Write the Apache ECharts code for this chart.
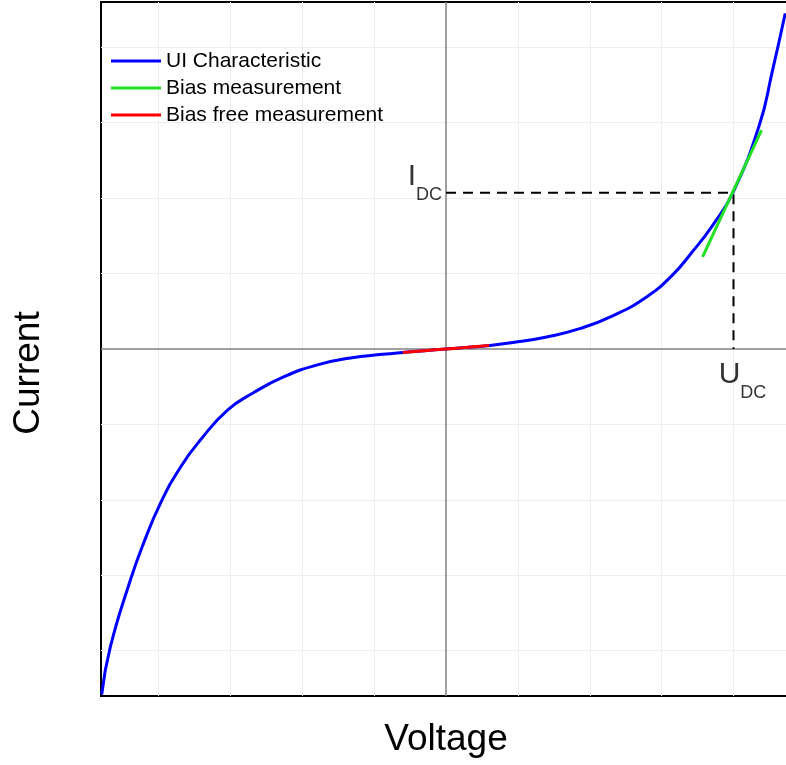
<!DOCTYPE html>
<html>
<head>
<meta charset="utf-8">
<script src="https://cdn.jsdelivr.net/npm/echarts@6/dist/echarts.min.js"></script>
<style>
  html, body { margin: 0; padding: 0; background: #fff; }
  #chart { width: 786px; height: 765px; }
</style>
</head>
<body>
<div id="chart"></div>
<script>
// UI characteristic (voltage, current in grid units)
var uiVoltage = [-4.79, -4.67, -4.39, -4.21, -3.97, -3.69, -3.42, -3.04, -2.68, -2.26, -1.79, -1.33, -0.88, -0.6, -0.3, 0, 0.3, 0.6, 0.93, 1.40, 1.86, 2.32, 2.79, 3.15, 3.42, 3.71, 3.99, 4.36, 4.54, 4.72];
var uiCurrent = [-4.58, -3.95, -3.06, -2.58, -2.04, -1.56, -1.21, -0.81, -0.58, -0.37, -0.21, -0.12, -0.07, -0.045, -0.022, 0, 0.022, 0.045, 0.085, 0.16, 0.27, 0.44, 0.69, 0.98, 1.28, 1.64, 2.07, 2.97, 3.68, 4.45];

// bias free measurement (small signal around zero)
var freeVoltage = [-0.6, -0.3, 0, 0.3, 0.6];
var freeCurrent = [-0.045, -0.022, 0, 0.022, 0.045];

// bias measurement (tangent at the DC operating point)
var biasVoltage = [3.57, 4.39];
var biasCurrent = [1.22, 2.90];

// operating point
var uDC = 4;
var iDC = 2.07;

var gridTicksX = [-4, -3, -2, -1, 1, 2, 3, 4];
var gridTicksY = [-4, -3, -2, -1, 1, 2, 3, 4];

function pairs(xs, ys) {
  return xs.map(function (x, i) { return [x, ys[i]]; });
}

var chart = echarts.init(document.getElementById('chart'), null, { renderer: 'canvas' });
var font = 'Liberation Sans, Arial, sans-serif';

var gridLines = [];
gridTicksX.forEach(function (v) { gridLines.push({ xAxis: v }); });
gridTicksY.forEach(function (v) { gridLines.push({ yAxis: v }); });

var subLabel = {
  a: { fontSize: 30, lineHeight: 30, color: '#000', fontFamily: font, verticalAlign: 'bottom', padding: [0, 0, 12, 0] },
  b: { fontSize: 18, lineHeight: 18, color: '#000', fontFamily: font, verticalAlign: 'bottom' }
};

var option = {
  animation: false,
  backgroundColor: '#fff',
  textStyle: { fontFamily: font },
  grid: {
    left: 101, top: 2, width: 690, height: 694,
    outerBoundsMode: 'none',
    show: true, borderColor: '#000', borderWidth: 2, backgroundColor: 'transparent'
  },
  legend: {
    orient: 'vertical',
    left: 111, top: 50, padding: 0,
    itemWidth: 50, itemHeight: 3, itemGap: 5,
    icon: 'rect',
    textStyle: { fontSize: 21, color: '#000', lineHeight: 22, fontFamily: font },
    data: ['UI Characteristic', 'Bias measurement', 'Bias free measurement']
  },
  xAxis: {
    type: 'value', min: -4.8, max: 4.8,
    name: 'Voltage', nameLocation: 'middle', nameGap: 25,
    nameTextStyle: { fontSize: 37, color: '#000', fontFamily: font },
    axisLine: { show: false, onZero: false },
    axisTick: { show: false }, axisLabel: { show: false }, splitLine: { show: false }
  },
  yAxis: {
    type: 'value', min: -4.6, max: 4.6,
    name: 'Current', nameLocation: 'middle', nameGap: 54,
    nameTextStyle: { fontSize: 37, color: '#000', fontFamily: font, padding: [0, 48, 0, 0] },
    axisLine: { show: false, onZero: false },
    axisTick: { show: false }, axisLabel: { show: false }, splitLine: { show: false }
  },
  series: [
    {
      name: 'grid', type: 'line', data: [], z: 1, silent: true,
      markLine: {
        z: 0, silent: true, symbol: 'none', label: { show: false },
        lineStyle: { color: '#eeeeee', width: 1, type: 'solid' },
        data: gridLines
      }
    },
    {
      name: 'axes', type: 'line', data: [], z: 2, silent: true,
      markLine: {
        z: 1, silent: true, symbol: 'none', label: { show: false },
        lineStyle: { color: '#808080', width: 1.5, type: 'solid' },
        data: [{ xAxis: 0 }, { yAxis: 0 }]
      }
    },
    {
      name: 'dc', type: 'line', z: 3, silent: true,
      data: [[0, iDC], [uDC, iDC], [uDC, 0]],
      symbol: 'none',
      lineStyle: { color: '#000', width: 2, type: [10, 7] }
    },
    {
      name: 'UI Characteristic', type: 'line', z: 4,
      data: pairs(uiVoltage, uiCurrent),
      smooth: 0.5, symbol: 'none',
      itemStyle: { color: '#0000ff' },
      lineStyle: { color: '#0000ff', width: 3 }
    },
    {
      name: 'Bias measurement', type: 'line', z: 5,
      data: pairs(biasVoltage, biasCurrent),
      symbol: 'none',
      itemStyle: { color: '#22e022' },
      lineStyle: { color: '#22e022', width: 3 }
    },
    {
      name: 'Bias free measurement', type: 'line', z: 5,
      data: pairs(freeVoltage, freeCurrent),
      smooth: 0.3, symbol: 'none',
      itemStyle: { color: '#ff0000' },
      lineStyle: { color: '#ff0000', width: 3 }
    },
    {
      name: 'labels', type: 'scatter', z: 6, silent: true,
      symbolSize: 0,
      data: [
        {
          value: [0, iDC],
          label: {
            show: true, position: 'left', distance: 4, offset: [0, -4],
            formatter: '{a|I}{b|DC}', rich: subLabel
          }
        },
        {
          value: [uDC, 0],
          label: {
            show: true, position: 'bottom', distance: 8, offset: [9, 15],
            formatter: '{a|U}{b|DC}', rich: subLabel
          }
        }
      ]
    }
  ]
};

chart.setOption(option);
window.onresize = function () {
  chart.resize();
};
</script>
</body>
</html>
